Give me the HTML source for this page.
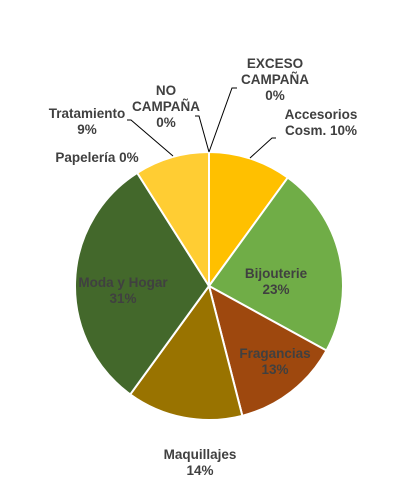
<!DOCTYPE html>
<html><head><meta charset="utf-8"><style>
body{margin:0;background:#fff}
svg text{font-family:"Liberation Sans",sans-serif;font-weight:bold;font-size:13.5px;fill:#404040;text-anchor:middle}
</style></head><body>
<svg width="410" height="490">
<g id="slices"></g>
<g id="leaders" stroke="#000" stroke-width="1" fill="none">
<polyline points="209,152 232,88 237,88"/>
<polyline points="209,152 199,116 195,116"/>
<polyline points="173,156 131,120 127,120"/>
<polyline points="250,158 272,138 276,138"/>
</g>
<g>
<text x="275" y="68">EXCESO<tspan x="275" dy="16">CAMPAÑA</tspan><tspan x="275" dy="16">0%</tspan></text>
<text x="166" y="95">NO<tspan x="166" dy="16">CAMPAÑA</tspan><tspan x="166" dy="16">0%</tspan></text>
<text x="87" y="118">Tratamiento<tspan x="87" dy="16">9%</tspan></text>
<text x="97" y="162">Papelería 0%</text>
<text x="321" y="119">Accesorios<tspan x="321" dy="16">Cosm. 10%</tspan></text>
<text x="276" y="278">Bijouterie<tspan x="276" dy="16">23%</tspan></text>
<text x="275" y="358">Fragancias<tspan x="275" dy="16">13%</tspan></text>
<text x="200" y="459">Maquillajes<tspan x="200" dy="16">14%</tspan></text>
<text x="123" y="287">Moda y Hogar<tspan x="123" dy="16">31%</tspan></text>
</g>
</svg>
<script>
const categories=["Accesorios Cosm.","Bijouterie","Fragancias","Maquillajes","Moda y Hogar","Papelería","Tratamiento","NO CAMPAÑA","EXCESO CAMPAÑA"];
const values=[10,23,13,14,31,0,9,0,0];
const colors=["#FFC000","#70AD47","#9E480E","#997300","#43682B","#264478","#FFCD33","#636363","#F4B183"];
const cx=209,cy=286,r=134;
const g=document.getElementById('slices');
const total=values.reduce((a,b)=>a+b,0);
let a=0;
values.forEach((v,i)=>{
  if(v<=0)return;
  const a1=a+v/total*2*Math.PI;
  const x0=cx+r*Math.sin(a),y0=cy-r*Math.cos(a),x1=cx+r*Math.sin(a1),y1=cy-r*Math.cos(a1);
  const p=document.createElementNS('http://www.w3.org/2000/svg','path');
  p.setAttribute('d',`M${cx},${cy}L${x0},${y0}A${r},${r} 0 ${a1-a>Math.PI?1:0} 1 ${x1},${y1}Z`);
  p.setAttribute('fill',colors[i]);
  p.setAttribute('stroke','#fff');
  p.setAttribute('stroke-width','2');
  
  
  g.appendChild(p);
  a=a1;
});
</script>
</body></html>
